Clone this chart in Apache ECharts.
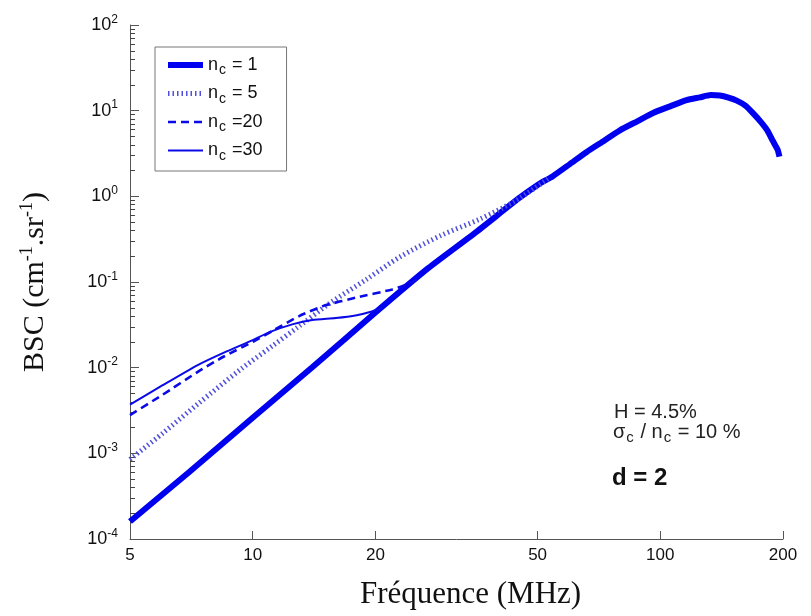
<!DOCTYPE html>
<html><head><meta charset="utf-8">
<script src="https://cdn.jsdelivr.net/npm/echarts@6/dist/echarts.min.js"></script>
<style>html,body{margin:0;padding:0;background:#fff}#c{width:811px;height:616px}</style>
</head><body><div id="c"></div>
<script>
// ---- data ----
const seriesNames = ['n_c = 1', 'n_c = 5', 'n_c =20', 'n_c =30'];
const freq1 = [5, 7, 10, 14, 20, 27, 35, 45, 50, 54.5, 60, 66, 72, 79.6, 88, 96, 106, 116, 125, 133, 140, 147, 154, 162, 169, 176, 183, 189, 194, 196];
const bsc1  = [1.6e-4, 6.1e-4, 2.6e-3, 1.01e-2, 0.044, 0.146, 0.37, 0.95, 1.36, 1.72, 2.38, 3.3, 4.32, 5.9, 7.56, 9.4, 11.3, 13.3, 14.3, 15.2, 15.0, 14.2, 13.1, 11.4, 9.3, 7.5, 5.9, 4.4, 3.5, 2.9];
const freq5 = [5, 6, 7.35, 9.3, 11.1, 13, 15.5, 19, 23, 29, 36, 44, 53];
const bsc5  = [8.5e-4, 1.7e-3, 3.8e-3, 9.4e-3, 0.0175, 0.0305, 0.057, 0.107, 0.197, 0.35, 0.54, 0.88, 1.6];
const freq20 = [5, 6, 7.35, 8.5, 10, 11.2, 13, 15, 18, 22, 24.7, 25.7];
const bsc20  = [2.8e-3, 4.8e-3, 9.0e-3, 0.0135, 0.020, 0.027, 0.040, 0.053, 0.066, 0.082, 0.10, 0.115];
const freq30 = [5, 6, 7.35, 8.5, 10, 11, 12.5, 14, 16, 18, 19.5, 20.8];
const bsc30  = [3.7e-3, 6.2e-3, 0.0108, 0.015, 0.021, 0.026, 0.032, 0.036, 0.038, 0.041, 0.045, 0.05];
const xTicks = [5, 10, 20, 50, 100, 200];
const yTicks = [1e-4, 1e-3, 1e-2, 1e-1, 1, 10, 100];
const yAllTicks = [];
[1e-4, 1e-3, 1e-2, 1e-1, 1, 10].forEach(d => { for (let k = 1; k <= 9; k++) yAllTicks.push(+(d * k).toPrecision(3)); });
yAllTicks.push(100);

const pairs = (xs, ys) => xs.map((x, i) => [x, ys[i]]);
const axisColor = '#555';
const chart = echarts.init(document.getElementById('c'), null, {renderer: 'canvas'});
chart.setOption({
  animation: false,
  backgroundColor: '#fff',
  grid: {left: 130, right: 28, top: 25, bottom: 77},
  legend: {
    orient: 'vertical', left: 155, top: 47,
    padding: [9, 24, 8, 10],
    borderColor: '#777', borderWidth: 1,
    itemWidth: 35, itemHeight: 12, itemGap: 7, itemTextGap: 18,
    itemStyle: {opacity: 0, borderWidth: 0},
    lineStyle: {width: 'inherit', type: 'inherit', opacity: 1},
    data: seriesNames,
    formatter: name => {
      const rest = name.slice(3);
      return '{n|n}{s|c}{n|' + rest + '}';
    },
    textStyle: {
      fontFamily: 'Liberation Sans', fontSize: 18, color: '#111',
      rich: {
        n: {fontFamily: 'Liberation Sans', fontSize: 18, color: '#111'},
        s: {fontFamily: 'Liberation Sans', fontSize: 14, color: '#111', padding: [11, 1, 0, 1]}
      }
    }
  },
  xAxis: {
    type: 'log', logBase: 10, min: 5, max: 200,
    name: 'Fréquence (MHz)', nameLocation: 'middle', nameGap: 40,
    nameTextStyle: {fontFamily: 'Liberation Serif', fontSize: 31, color: '#111', padding: [0, 0, 0, 28]},
    axisLine: {show: true, lineStyle: {color: axisColor, width: 1}},
    axisTick: {show: true, inside: true, length: 8, customValues: xTicks, lineStyle: {color: axisColor}},
    axisLabel: {customValues: xTicks, margin: 8, fontFamily: 'Liberation Sans', fontSize: 17, color: '#111',
      formatter: v => String(Math.round(v))},
    splitLine: {show: false}, minorTick: {show: false}
  },
  yAxis: [{
    type: 'log', logBase: 10, min: 1e-4, max: 100,
    name: 'BSC (cm{s|-1}.sr{s|-1})', nameLocation: 'middle', nameGap: 78,
    nameTextStyle: {fontFamily: 'Liberation Serif', fontSize: 30, color: '#111',
      rich: {s: {fontFamily: 'Liberation Serif', fontSize: 18, color: '#111', padding: [0, 0, 16, 0]}}},
    axisLine: {show: true, lineStyle: {color: axisColor, width: 1}},
    axisTick: {show: true, inside: true, length: 5, customValues: yAllTicks, lineStyle: {color: '#444', width: 1}},
    axisLabel: {customValues: yTicks, margin: 12,
      formatter: v => '{b|10}{e|' + Math.round(Math.log10(v)) + '}',
      rich: {
        b: {fontFamily: 'Liberation Sans', fontSize: 18, color: '#111'},
        e: {fontFamily: 'Liberation Sans', fontSize: 12, color: '#111', padding: [0, 0, 11, 0]}
      }},
    splitLine: {show: false}
  }, {
    type: 'log', logBase: 10, min: 1e-4, max: 100, position: 'left', offset: 0,
    axisLine: {show: false},
    axisTick: {show: true, inside: true, length: 9, customValues: yTicks, lineStyle: {color: axisColor, width: 1}},
    axisLabel: {show: false},
    splitLine: {show: false}
  }],
  series: [
    {name: seriesNames[0], type: 'line', data: pairs(freq1, bsc1), symbol: 'none', smooth: 0.2,
      lineStyle: {color: '#0000f0', width: 6, type: 'solid'}, itemStyle: {color: '#0000f0'}, z: 2},
    {name: seriesNames[1], type: 'line', data: pairs(freq5, bsc5), symbol: 'none', smooth: 0.3,
      lineStyle: {color: '#5050dc', width: 5, type: [1.5, 3]}, itemStyle: {color: '#5050dc'}, z: 3},
    {name: seriesNames[2], type: 'line', data: pairs(freq20, bsc20), symbol: 'none', smooth: 0.2,
      lineStyle: {color: '#0a0ae8', width: 2.6, type: [8, 5]}, itemStyle: {color: '#0a0ae8'}, z: 4},
    {name: seriesNames[3], type: 'line', data: pairs(freq30, bsc30), symbol: 'none', smooth: 0.2,
      lineStyle: {color: '#0a0ae8', width: 2, type: 'solid'}, itemStyle: {color: '#0a0ae8'}, z: 5}
  ],
  graphic: [
    {type: 'text', left: 614, top: 402, style: {text: 'H = 4.5%', font: '20px "Liberation Sans"', fill: '#222'}},
    {type: 'text', left: 613, top: 422, style: {
      text: '{a|σ}{s|c}{a| / n}{s|c}{a| = 10 %}',
      rich: {a: {fontFamily: 'Liberation Sans', fontSize: 20, fill: '#222'},
             s: {fontFamily: 'Liberation Sans', fontSize: 15, fill: '#222', padding: [12, 1, 0, 1]}}}},
    {type: 'text', left: 612, top: 466, style: {text: 'd = 2', font: 'bold 24px "Liberation Sans"', fill: '#111'}}
  ]
});
</script></body></html>
